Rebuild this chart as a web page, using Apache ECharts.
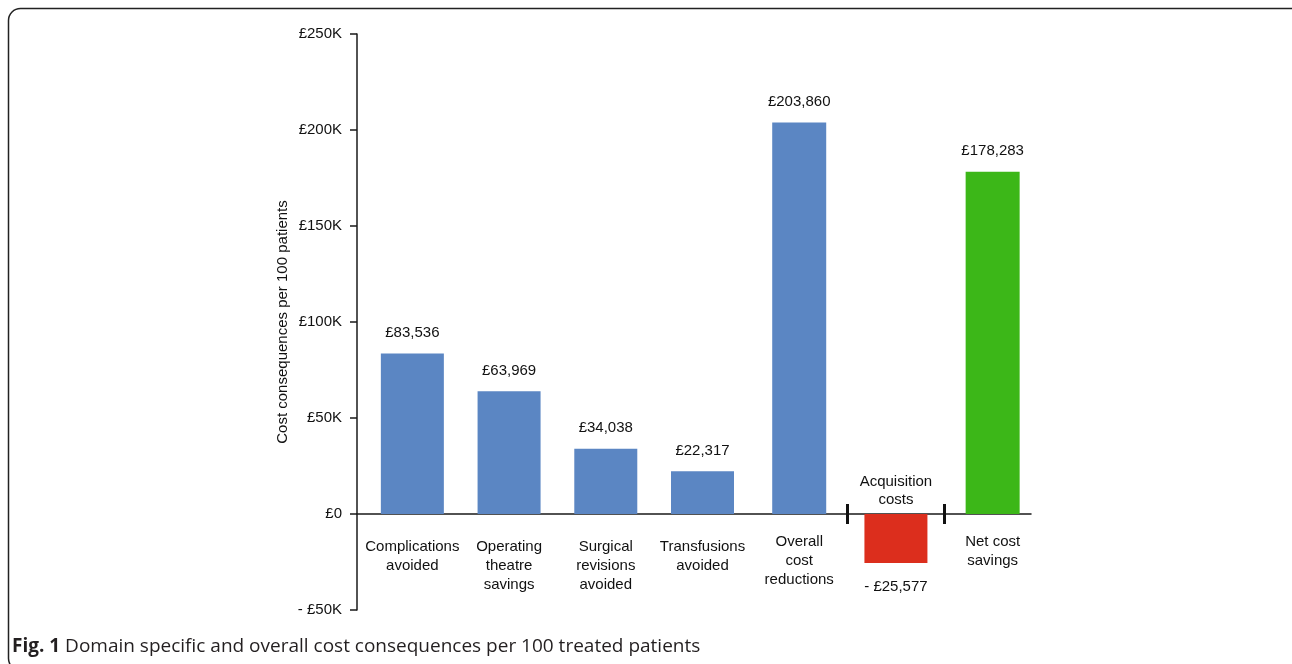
<!DOCTYPE html>
<html>
<head>
<meta charset="utf-8">
<script src="https://cdn.jsdelivr.net/npm/echarts@6/dist/echarts.min.js"></script>
<style>
html,body{margin:0;padding:0;background:#fff;}
#chart{width:1292px;height:664px;}
</style>
</head>
<body>
<div id="chart"></div>
<script>
// ---- data ----
const categories = ['Complications\navoided', 'Operating\ntheatre\nsavings', 'Surgical\nrevisions\navoided', 'Transfusions\navoided', 'Overall\ncost\nreductions', 'Acquisition\ncosts', 'Net cost\nsavings'];
const values = [83536, 63969, 34038, 22317, 203860, -25577, 178283];
const yMin = -50000, yMax = 250000, yStep = 50000;
const yTickLabels = ['- £50K', '£0', '£50K', '£100K', '£150K', '£200K', '£250K'];
const yName = 'Cost consequences per 100 patients';
const captionBold = 'Fig. 1';
const captionText = 'Domain specific and overall cost consequences per 100 treated patients';

// ---- styles ----
const colors = ['#5b86c3', '#5b86c3', '#5b86c3', '#5b86c3', '#5b86c3', '#dc2e1d', '#3cb718'];
const narrow = [4, 6];          // bars drawn narrower
const raisedLabel = [4, 6];     // axis labels sitting slightly higher
const FONT = '"Liberation Sans", Arial, Helvetica, sans-serif';

function fmtMoney(v) {
  const s = '£' + Math.abs(v).toLocaleString('en-GB');
  return v < 0 ? '- ' + s : s;
}

const negIdx = values.findIndex(v => v < 0);

// positive bars (grid 1), split wide / narrow so each stays centred on its band
function posData(isNarrow) {
  return values.map((v, i) => {
    if (v < 0 || narrow.includes(i) !== isNarrow) return '-';
    return { value: v, itemStyle: { color: colors[i] } };
  });
}
// negative bar (grid 2, one band)
const negData = [{ value: values[negIdx], itemStyle: { color: colors[negIdx] } }];

const chart = echarts.init(document.getElementById('chart'), null, { renderer: 'canvas' });

const TOP = 34, ZERO_Y = 514, BOTTOM_Y = 610, H = 664;
const BAND_LEFT = 364, BAND_W = 677 / categories.length;

const valueLabel = { show: true, color: '#111', fontSize: 15, fontFamily: FONT, formatter: (p) => fmtMoney(p.value) };
const hiddenY = (grid, min, max) => ({
  gridIndex: grid, type: 'value', min: min, max: max,
  axisLine: { show: false }, axisTick: { show: false }, axisLabel: { show: false }, splitLine: { show: false }
});

const option = {
  animation: false,
  backgroundColor: '#fff',
  textStyle: { fontFamily: FONT },
  grid: [
    // full-range grid: y axis and zero line
    { left: 357, width: 674, top: TOP, bottom: H - BOTTOM_Y, containLabel: false, outerBoundsMode: 'none' },
    // positive part
    { left: BAND_LEFT, width: 677, top: TOP, bottom: H - ZERO_Y, containLabel: false, outerBoundsMode: 'none' },
    // negative part: only the acquisition band
    { left: BAND_LEFT + BAND_W * negIdx, width: BAND_W, top: ZERO_Y, bottom: H - BOTTOM_Y, containLabel: false, outerBoundsMode: 'none' }
  ],
  xAxis: [
    { // zero line
      gridIndex: 0, type: 'category', data: ['a'],
      axisLine: { onZero: true, lineStyle: { color: '#1a1a1a', width: 1.5 } },
      axisTick: { show: false }, axisLabel: { show: false }, splitLine: { show: false }
    },
    { // category labels below the zero line
      gridIndex: 1, type: 'category', position: 'bottom',
      data: categories.map((c, i) => ({
        value: values[i] < 0 ? '' : c,
        textStyle: { padding: raisedLabel.includes(i) ? [0, 0, 0, 0] : [5, 0, 0, 0] }
      })),
      axisLine: { show: false, onZero: false }, axisTick: { show: false },
      axisLabel: { interval: 0, margin: 18, color: '#111', fontSize: 15, lineHeight: 19, fontFamily: FONT },
      splitLine: { show: false }
    },
    { // hidden twin axis for the narrow bars
      gridIndex: 1, type: 'category', position: 'top', data: categories,
      axisLine: { show: false, onZero: false }, axisTick: { show: false }, axisLabel: { show: false },
      splitLine: { show: false }
    },
    { // acquisition band: label above zero line, boundary ticks
      gridIndex: 2, type: 'category', position: 'top', offset: -10, data: [categories[negIdx]],
      axisLine: { show: false, onZero: false },
      axisTick: { show: true, length: 20, lineStyle: { color: '#111', width: 3 } },
      axisLabel: { interval: 0, margin: 15, color: '#111', fontSize: 15, lineHeight: 18, fontFamily: FONT },
      splitLine: { show: false }
    }
  ],
  yAxis: [
    {
      gridIndex: 0, type: 'value', min: yMin, max: yMax, interval: yStep,
      name: yName, nameLocation: 'middle', nameRotate: 90, nameGap: 67, nameMoveOverlap: false,
      nameTextStyle: { color: '#111', fontSize: 15, fontFamily: FONT },
      axisLine: { show: true, lineStyle: { color: '#1a1a1a', width: 1.5 } },
      axisTick: { show: true, length: 7, lineStyle: { color: '#1a1a1a', width: 1.5 } },
      axisLabel: { margin: 15, color: '#111', fontSize: 15, fontFamily: FONT,
        formatter: (v) => yTickLabels[Math.round((v - yMin) / yStep)] },
      splitLine: { show: false }
    },
    hiddenY(1, 0, yMax),
    hiddenY(1, 0, yMax),
    hiddenY(2, yMin, 0)
  ],
  series: [
    {
      type: 'bar', xAxisIndex: 1, yAxisIndex: 1, barWidth: 63, data: posData(false),
      label: Object.assign({ position: 'top', distance: 13 }, valueLabel)
    },
    {
      type: 'bar', xAxisIndex: 2, yAxisIndex: 2, barWidth: 54, data: posData(true),
      label: Object.assign({ position: 'top', distance: 13 }, valueLabel)
    },
    {
      type: 'bar', xAxisIndex: 3, yAxisIndex: 3, barWidth: 63, data: negData,
      label: Object.assign({ position: 'bottom', distance: 16 }, valueLabel)
    }
  ],
  graphic: [
    {
      type: 'rect', z: -1, silent: true,
      shape: { x: 8.5, y: 8.5, width: 1300, height: 662, r: 12 },
      style: { fill: 'none', stroke: '#222', lineWidth: 1.5 }
    },
    {
      type: 'text', left: 12, top: 637, silent: true,
      style: {
        text: '{b|' + captionBold + '} ' + captionText,
        font: '19px "Open Sans", sans-serif', fill: '#231f20',
        rich: { b: { fontWeight: 'bold', fontSize: 19, fontFamily: '"Open Sans", sans-serif', fill: '#231f20' } }
      }
    }
  ]
};

chart.setOption(option);
</script>
</body>
</html>
